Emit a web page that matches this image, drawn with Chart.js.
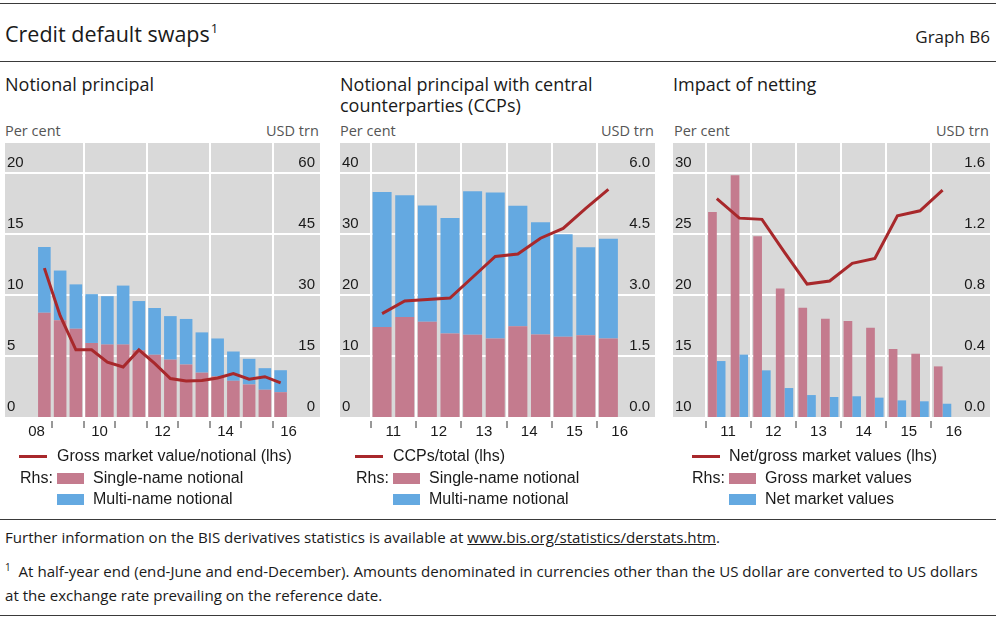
<!DOCTYPE html>
<html>
<head>
<meta charset="utf-8">
<title>Credit default swaps</title>
<script src="https://cdn.jsdelivr.net/npm/chart.js@4/dist/chart.umd.min.js"></script>
<style>
  html, body { margin: 0; padding: 0; background: #ffffff; }
  body {
    position: relative;
    width: 996px;
    height: 619px;
    overflow: hidden;
    font-family: "Open Sans", "Noto Sans", sans-serif;
    color: #1a1a1a;
  }
  .rule { position: absolute; left: 0; width: 996px; height: 0; border-top: 1.5px solid #3a3a3a; }
  .txt { position: absolute; white-space: nowrap; height: 20px; line-height: 20px; }
  .main-title { left: 5px; top: 20px; font-size: 21.5px; height: 28px; line-height: 28px; }
  .main-title .sup { font-size: 13px; position: relative; top: -9px; line-height: 0; margin-left: 1px; }
  .graph-no { right: 6px; top: 27px; font-size: 17px; }
  .panel-title { font-size: 18px; height: 22px; line-height: 22px; }
  .unit { font-size: 14.5px; color: #555555; top: 121px; }
  .chart-box { position: absolute; top: 143px; }
  .lg { position: absolute; white-space: nowrap; font-family: "Liberation Sans", Arial, sans-serif; font-size: 16px; height: 20px; line-height: 20px; color: #1a1a1a; }
  .lg-line { position: absolute; height: 3px; width: 28px; background: #a8282b; }
  .lg-box { position: absolute; height: 11px; width: 27px; }
  .note { position: absolute; left: 5px; white-space: nowrap; font-size: 15.1px; height: 20px; line-height: 20px; }
  .note a { color: inherit; text-decoration: underline; }
  .note .sup { font-size: 10px; position: relative; top: -6px; line-height: 0; }
</style>
</head>
<body>
  <div class="rule" style="top: 3px;"></div>
  <div class="txt main-title">Credit default swaps<span class="sup">1</span></div>
  <div class="txt graph-no">Graph B6</div>
  <div class="rule" style="top: 61px;"></div>

  <div class="txt panel-title" style="left: 5px; top: 73px;">Notional principal</div>
  <div class="txt panel-title" style="left: 340px; top: 73px;">Notional principal with central</div>
  <div class="txt panel-title" style="left: 340px; top: 94px;">counterparties (CCPs)</div>
  <div class="txt panel-title" style="left: 673px; top: 73px;">Impact of netting</div>

  <div class="txt unit" style="left: 5px;">Per cent</div>
  <div class="txt unit" style="left: 266px;">USD trn</div>
  <div class="txt unit" style="left: 340px;">Per cent</div>
  <div class="txt unit" style="left: 601px;">USD trn</div>
  <div class="txt unit" style="left: 674px;">Per cent</div>
  <div class="txt unit" style="left: 936px;">USD trn</div>

  <div class="chart-box" style="left: 5px;"><canvas id="chart-np" width="315" height="304"></canvas></div>
  <div class="chart-box" style="left: 340px;"><canvas id="chart-ccp" width="315" height="304"></canvas></div>
  <div class="chart-box" style="left: 673px;"><canvas id="chart-net" width="317" height="304"></canvas></div>

  <!-- legends -->
  <div class="lg-line" style="left: 19px; top: 455px;"></div>
  <div class="lg" style="left: 57px; top: 446px;">Gross market value/notional (lhs)</div>
  <div class="lg" style="left: 20px; top: 468px;">Rhs:</div>
  <div class="lg-box" style="left: 57px; top: 473px; background: #c47b8e;"></div>
  <div class="lg" style="left: 93px; top: 468px;">Single-name notional</div>
  <div class="lg-box" style="left: 57px; top: 494px; background: #64a9e1;"></div>
  <div class="lg" style="left: 93px; top: 489px;">Multi-name notional</div>

  <div class="lg-line" style="left: 355px; top: 455px;"></div>
  <div class="lg" style="left: 393px; top: 446px;">CCPs/total (lhs)</div>
  <div class="lg" style="left: 356px; top: 468px;">Rhs:</div>
  <div class="lg-box" style="left: 393px; top: 473px; background: #c47b8e;"></div>
  <div class="lg" style="left: 429px; top: 468px;">Single-name notional</div>
  <div class="lg-box" style="left: 393px; top: 494px; background: #64a9e1;"></div>
  <div class="lg" style="left: 429px; top: 489px;">Multi-name notional</div>

  <div class="lg-line" style="left: 692px; top: 455px;"></div>
  <div class="lg" style="left: 729px; top: 446px;">Net/gross market values (lhs)</div>
  <div class="lg" style="left: 692px; top: 468px;">Rhs:</div>
  <div class="lg-box" style="left: 729px; top: 473px; background: #c47b8e;"></div>
  <div class="lg" style="left: 765px; top: 468px;">Gross market values</div>
  <div class="lg-box" style="left: 729px; top: 494px; background: #64a9e1;"></div>
  <div class="lg" style="left: 765px; top: 489px;">Net market values</div>

  <div class="rule" style="top: 519px;"></div>
  <div class="note" style="top: 527px;">Further information on the BIS derivatives statistics is available at <a>www.bis.org/statistics/derstats.htm</a>.</div>
  <div class="note" style="top: 561px;"><span class="sup">1</span>&nbsp; At half-year end (end-June and end-December). Amounts denominated in currencies other than the US dollar are converted to US dollars</div>
  <div class="note" style="top: 585px;">at the exchange rate prevailing on the reference date.</div>
  <div class="rule" style="top: 615px;"></div>

<script>
(function () {
  if (typeof Chart === "undefined") {
    return;
  }

  // Notional principal, end-Dec 2008 to end-June 2016
  var npPeriods = [
    "2008-H2", "2009-H1", "2009-H2", "2010-H1", "2010-H2", "2011-H1",
    "2011-H2", "2012-H1", "2012-H2", "2013-H1", "2013-H2", "2014-H1",
    "2014-H2", "2015-H1", "2015-H2", "2016-H1",
  ];
  var npGrossToNotional = [12.2, 8.3, 5.5, 5.5, 4.5, 4.1, 5.5, 4.4, 3.15, 2.95, 3.0, 3.2, 3.55, 3.1, 3.3, 2.8];
  var npSingleName = [25.6, 23.8, 21.7, 18.2, 17.8, 17.8, 16.4, 15.3, 14.1, 12.9, 10.9, 10.0, 8.9, 8.0, 6.7, 6.1];
  var npMultiName = [16.2, 12.2, 10.9, 12.0, 11.9, 14.5, 12.1, 11.5, 10.7, 11.2, 9.9, 9.3, 7.2, 6.3, 5.3, 5.4];

  // CCPs and netting panels, end-June 2011 to end-June 2016
  var ccpPeriods = [
    "2011-H1", "2011-H2", "2012-H1", "2012-H2", "2013-H1", "2013-H2",
    "2014-H1", "2014-H2", "2015-H1", "2015-H2", "2016-H1",
  ];
  var ccpShare = [16.95, 19.0, 19.25, 19.5, 22.9, 26.3, 26.7, 29.3, 30.9, 34.2, 37.3];
  var ccpSingleName = [2.21, 2.46, 2.34, 2.05, 2.02, 1.93, 2.23, 2.03, 1.97, 2.01, 1.93];
  var ccpMultiName = [3.32, 2.99, 2.86, 2.84, 3.53, 3.59, 2.96, 2.76, 2.52, 2.16, 2.45];

  var netToGross = [27.9, 26.3, 26.2, 23.5, 20.9, 21.15, 22.6, 23.0, 26.5, 26.9, 28.6];
  var grossMarketValues = [1.344, 1.585, 1.185, 0.842, 0.717, 0.645, 0.630, 0.586, 0.446, 0.415, 0.332];
  var netMarketValues = [0.367, 0.409, 0.306, 0.190, 0.144, 0.131, 0.136, 0.127, 0.109, 0.103, 0.087];

  // Axis ticks
  var npLhsTicks = [0, 5, 10, 15, 20];
  var npRhsTicks = [0, 15, 30, 45, 60];
  var ccpLhsTicks = [0, 10, 20, 30, 40];
  var ccpRhsTicks = [0, 1.5, 3.0, 4.5, 6.0];
  var netLhsTicks = [10, 15, 20, 25, 30];
  var netRhsTicks = [0, 0.4, 0.8, 1.2, 1.6];
  var npLabelYears = [2008, 2010, 2012, 2014, 2016];
  var npMarkYears = [2009, 2010, 2011, 2012, 2013, 2014, 2015, 2016];
  var npGridYears = [2010, 2012, 2014, 2016];
  var ccpLabelYears = [2011, 2012, 2013, 2014, 2015, 2016];
  var ccpMarkYears = [2011, 2012, 2013, 2014, 2015, 2016];
  var ccpGridYears = [2011, 2012, 2013, 2014, 2015, 2016];

  var PLOT_BG = "#d9d9d9";
  var GRID = "#ffffff";
  var PINK = "#c47b8e";
  var BLUE = "#64a9e1";
  var RED = "#a8282b";
  var TICK_FONT = { family: "'Liberation Sans', Arial, sans-serif", size: 15 };

  function periodPosition(period) {
    var parts = period.split("-");
    return Number(parts[0]) + (parts[1] === "H1" ? 0.25 : 0.75);
  }

  function toPoints(periods, values) {
    return periods.map(function (period, i) {
      return { x: periodPosition(period), y: values[i] };
    });
  }

  var plotBackground = {
    id: "plotBackground",
    beforeDraw: function (chart) {
      var area = chart.chartArea;
      var ctx = chart.ctx;
      ctx.save();
      ctx.fillStyle = PLOT_BG;
      ctx.fillRect(area.left, area.top, area.right - area.left, area.bottom - area.top);
      ctx.restore();
    },
  };

  function buildXAxis(range, labelYears, markYears, gridYears, stacked) {
    var values = [];
    markYears.concat(gridYears).forEach(function (y) {
      if (values.indexOf(y) < 0) values.push(y);
    });
    labelYears.forEach(function (y) {
      values.push(y + 0.5);
    });
    values.sort(function (a, b) { return a - b; });

    return {
      type: "linear",
      min: range[0],
      max: range[1],
      offset: false,
      stacked: stacked,
      afterBuildTicks: function (scale) {
        scale.ticks = values.map(function (v) { return { value: v }; });
      },
      afterFit: function (scale) {
        scale.height = 30;
        scale.paddingLeft = 0;
        scale.paddingRight = 0;
      },
      border: { display: false },
      grid: {
        offset: false,
        lineWidth: 2,
        color: function (ctx) {
          return ctx.tick && gridYears.indexOf(ctx.tick.value) >= 0 ? GRID : "rgba(0,0,0,0)";
        },
        tickColor: function (ctx) {
          return ctx.tick && markYears.indexOf(ctx.tick.value) >= 0 ? "#333333" : "rgba(0,0,0,0)";
        },
        tickWidth: 1,
        tickLength: 11,
        tickBorderDash: [0, 4, 8, 40],
      },
      ticks: {
        autoSkip: false,
        maxRotation: 0,
        padding: -5,
        color: "#1a1a1a",
        font: TICK_FONT,
        callback: function (value) {
          var year = Math.floor(value);
          if (value - year === 0.5 && labelYears.indexOf(year) >= 0) {
            return String(year).slice(2);
          }
          return "";
        },
      },
    };
  }

  function buildYAxis(position, range, tickValues, decimals, showGrid, stacked) {
    return {
      type: "linear",
      position: position,
      min: range[0],
      max: range[1],
      stacked: stacked,
      afterBuildTicks: function (scale) {
        scale.ticks = tickValues.map(function (v) { return { value: v }; });
      },
      // labels sit inside the plot, so the axis takes no room
      afterFit: function (scale) {
        scale.width = 0;
        scale.paddingTop = 0;
        scale.paddingBottom = 0;
      },
      border: { display: false },
      grid: {
        display: showGrid,
        drawTicks: false,
        lineWidth: 2,
        color: function (ctx) {
          return ctx.tick && ctx.tick.value !== range[0] ? GRID : "rgba(0,0,0,0)";
        },
      },
      ticks: {
        mirror: true,
        padding: position === "left" ? 2 : -5,
        labelOffset: -10,
        color: "#1a1a1a",
        font: TICK_FONT,
        callback: function (value) {
          return Number(value).toFixed(decimals);
        },
      },
    };
  }

  function lineDataset(label, periods, values) {
    return {
      type: "line",
      label: label,
      data: toPoints(periods, values),
      yAxisID: "y",
      borderColor: RED,
      borderWidth: 3,
      pointRadius: 0,
      tension: 0,
      fill: false,
    };
  }

  function barDataset(label, periods, values, color) {
    return {
      type: "bar",
      label: label,
      data: toPoints(periods, values),
      yAxisID: "y1",
      backgroundColor: color,
      borderWidth: 0,
    };
  }

  function makeChart(id, datasets, scales, barPct, catPct) {
    var canvas = document.getElementById(id);
    return new Chart(canvas, {
      type: "bar",
      data: { datasets: datasets },
      options: {
        responsive: false,
        animation: false,
        layout: { padding: 0 },
        datasets: { bar: { barPercentage: barPct, categoryPercentage: catPct } },
        plugins: { legend: { display: false }, tooltip: { enabled: false } },
        scales: scales,
      },
      plugins: [plotBackground],
    });
  }

  makeChart(
    "chart-np",
    [
      lineDataset("Gross market value/notional (lhs)", npPeriods, npGrossToNotional),
      barDataset("Single-name notional", npPeriods, npSingleName, PINK),
      barDataset("Multi-name notional", npPeriods, npMultiName, BLUE),
    ],
    {
      x: buildXAxis([2007.5, 2017.5], npLabelYears, npMarkYears, npGridYears, true),
      y: buildYAxis("left", [0, 22.45], npLhsTicks, 0, true, false),
      y1: buildYAxis("right", [0, 67.35], npRhsTicks, 0, false, true),
    },
    0.8,
    1
  );

  makeChart(
    "chart-ccp",
    [
      lineDataset("CCPs/total (lhs)", ccpPeriods, ccpShare),
      barDataset("Single-name notional", ccpPeriods, ccpSingleName, PINK),
      barDataset("Multi-name notional", ccpPeriods, ccpMultiName, BLUE),
    ],
    {
      x: buildXAxis([2010.32, 2017.28], ccpLabelYears, ccpMarkYears, ccpGridYears, true),
      y: buildYAxis("left", [0, 44.9], ccpLhsTicks, 0, true, false),
      y1: buildYAxis("right", [0, 6.735], ccpRhsTicks, 1, false, true),
    },
    0.84,
    1
  );

  makeChart(
    "chart-net",
    [
      lineDataset("Net/gross market values (lhs)", ccpPeriods, netToGross),
      barDataset("Gross market values", ccpPeriods, grossMarketValues, PINK),
      barDataset("Net market values", ccpPeriods, netMarketValues, BLUE),
    ],
    {
      x: buildXAxis([2010.28, 2017.3], ccpLabelYears, ccpMarkYears, ccpGridYears, false),
      y: buildYAxis("left", [10, 32.46], netLhsTicks, 0, true, false),
      y1: buildYAxis("right", [0, 1.797], netRhsTicks, 1, false, false),
    },
    1,
    0.77
  );
})();
</script>
</body>
</html>
